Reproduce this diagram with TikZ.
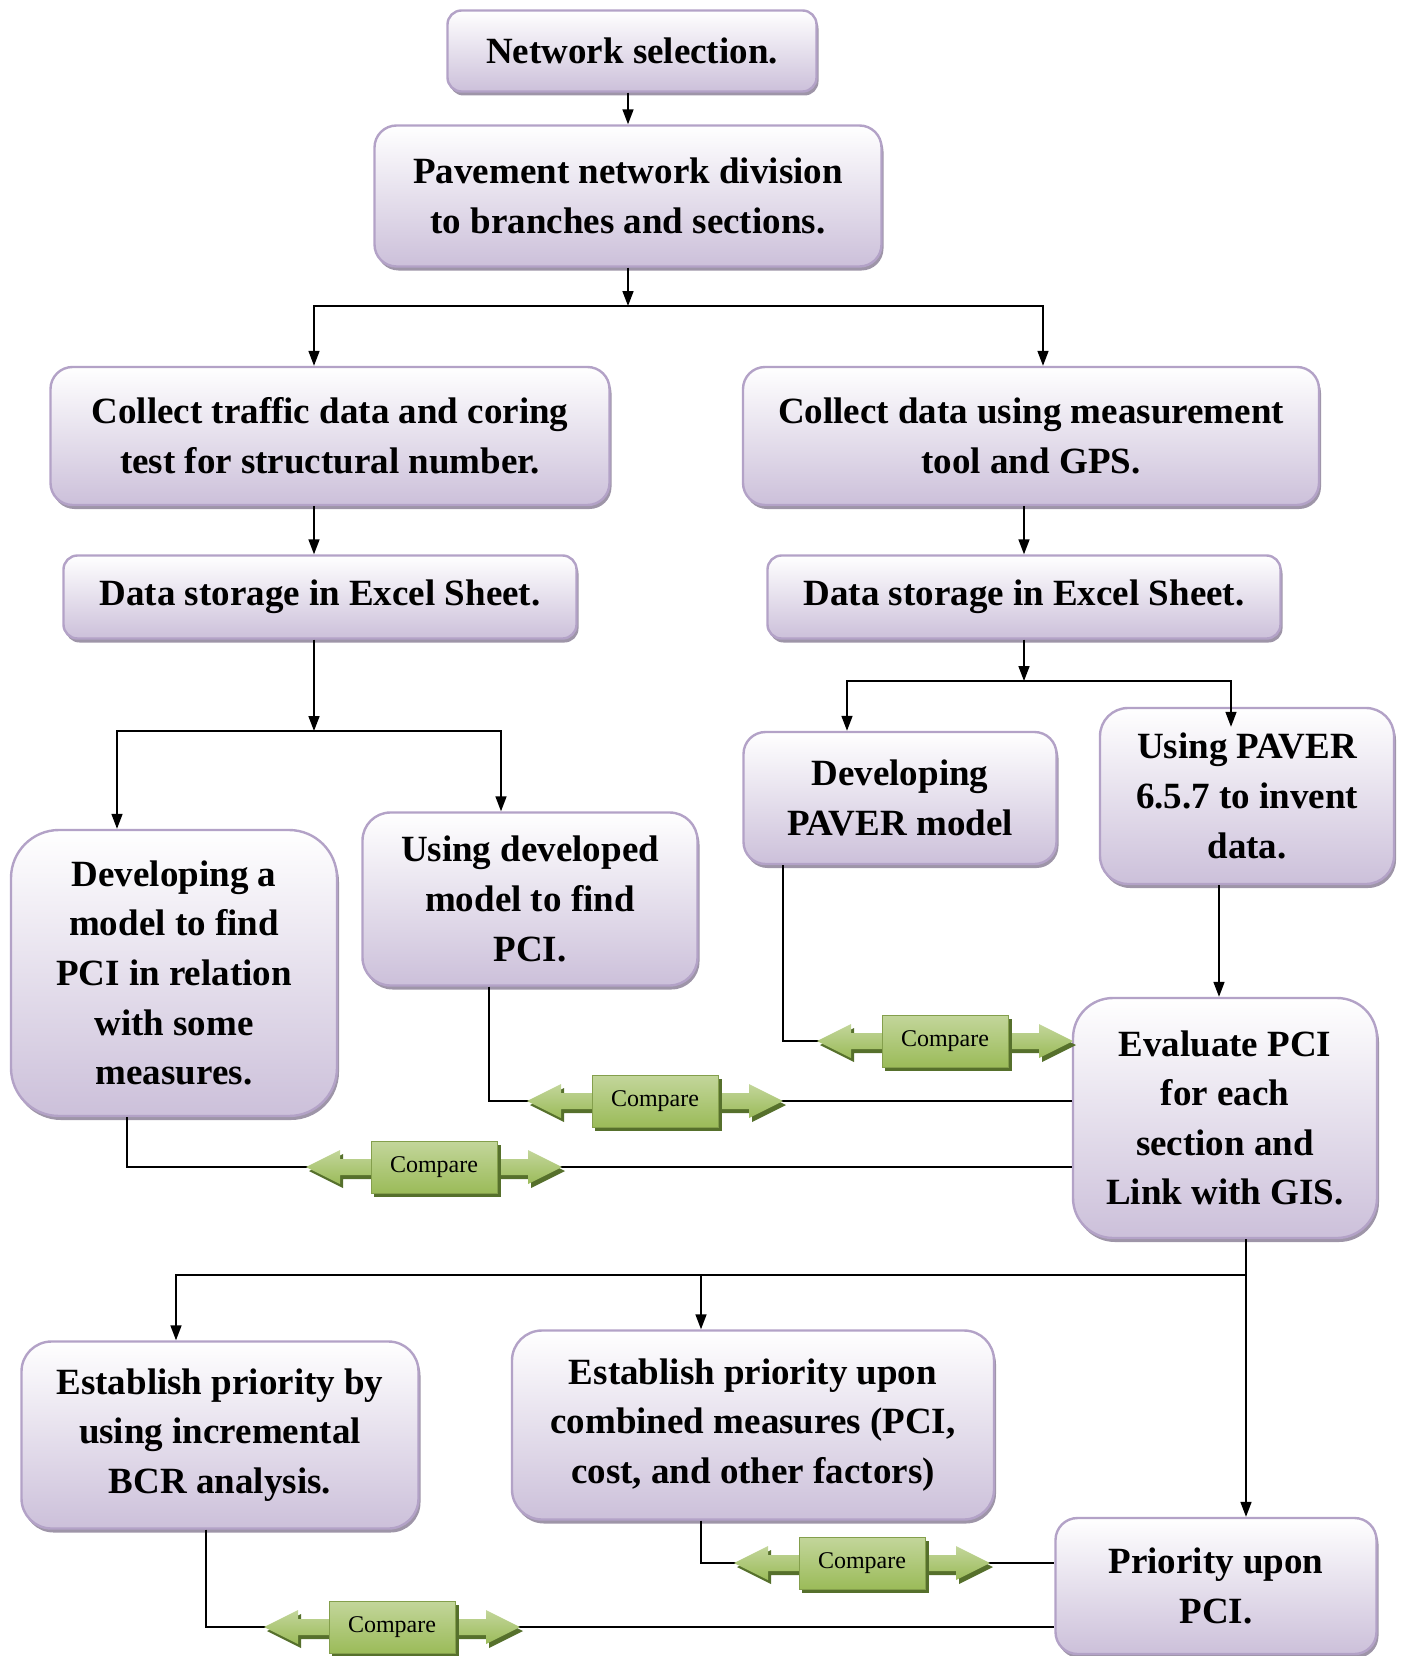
\documentclass[tikz,border=0pt]{standalone}
\usepackage{fontspec}
\setmainfont{Liberation Serif}
\usepackage{tikz}
\usetikzlibrary{arrows.meta,shadows}

\definecolor{boxline}{HTML}{B3A2C7}
\definecolor{boxfill}{HTML}{CCC0DA}
\definecolor{boxshade}{HTML}{9E95A8}
\definecolor{cmpgreen}{HTML}{9BBB59}
\definecolor{cmplight}{HTML}{C3D69B}
\definecolor{cmpdark}{HTML}{56702C}

\tikzset{
  stepbox/.style={draw=boxline, line width=2.4pt, rounded corners=#1,
    top color=white, bottom color=boxfill, align=center, inner sep=0pt,
    font=\bfseries\fontsize{37}{49.6}\selectfont,
    drop shadow={shadow xshift=2pt, shadow yshift=-4pt, fill=boxshade, opacity=1}},
  stepbox/.default=14pt,
  link/.style={line width=1.6pt, -{Triangle[length=15pt,width=11pt]}},
  plain/.style={line width=1.6pt},
  pics/compare/.style={code={
    % shadow of the double arrow
    \fill[cmpdark] (-125,4) -- (-91,-13) -- (-91,-4) -- (97,-4) -- (97,-13) -- (131,4)
      -- (97,21) -- (97,12) -- (-91,12) -- (-91,21) -- cycle;
    \path[top color=cmplight, bottom color=cmpgreen] (-128,0) -- (-94,-17) -- (-94,-8)
      -- (94,-8) -- (94,-17) -- (128,0) -- (94,17) -- (94,8) -- (-94,8) -- (-94,17) -- cycle;
    % box in the middle
    \fill[cmpdark] (-60,-22) rectangle (67,30);
    \path[top color=cmplight, bottom color=cmpgreen, draw=cmpgreen!85!black, line width=1pt]
      (-63,-26) rectangle (63,26);
    \node[font=\fontsize{24}{28}\selectfont] (-txt) at (0,0) {Compare};
    \coordinate (-w) at (-128,0);
    \coordinate (-e) at (128,0);
  }}
}

\begin{document}
\begin{tikzpicture}[x=1pt,y=-1pt]
        \useasboundingbox (0,0) rectangle (1400,1656);

        %top part
        \node[stepbox, minimum width=369pt, minimum height=81pt] (net) at (632,51) {Network selection.};
        \node[stepbox=22pt, minimum width=507pt, minimum height=141pt] (pav) at (628,196) {Pavement network division\\to branches and sections.};
        \node[stepbox=22pt, minimum width=559pt, minimum height=138pt] (ctr) at (330,436) {Collect traffic data and coring\\test for structural number.};
        \node[stepbox=22pt, minimum width=576pt, minimum height=138pt] (cgps) at (1031,436) {Collect data using measurement\\tool and GPS.};
        \node[stepbox, minimum width=513pt, minimum height=83pt] (stL) at (320,597) {Data storage in Excel Sheet.};
        \node[stepbox, minimum width=513pt, minimum height=83pt] (stR) at (1024,597) {Data storage in Excel Sheet.};

        %models
        \node[stepbox=48pt, minimum width=326pt, minimum height=286pt] (dev) at (174,973) {Developing a\\model to find\\PCI in relation\\with some\\measures.};
        \node[stepbox=28pt, minimum width=335pt, minimum height=173pt] (use) at (530,899) {Using developed\\model to find\\PCI.};
        \node[stepbox=22pt, minimum width=313pt, minimum height=132pt] (pvm) at (900,798) {Developing\\PAVER model};
        \node[stepbox=28pt, minimum width=294pt, minimum height=176pt] (pvr) at (1247,796) {Using PAVER\\6.5.7 to invent\\data.};
        \node[stepbox=40pt, minimum width=304pt, minimum height=240pt] (eval) at (1225,1118) {Evaluate PCI\\for each\\section and\\Link with GIS.};

        %priority
        \node[stepbox=30pt, minimum width=397pt, minimum height=187pt] (bcr) at (220,1435) {Establish priority by\\using incremental\\BCR analysis.};
        \node[stepbox=30pt, minimum width=482pt, minimum height=189pt] (comb) at (753,1425) {Establish priority upon\\combined measures (PCI,\\cost, and other factors)};
        \node[stepbox=22pt, minimum width=321pt, minimum height=136pt] (ppci) at (1216,1586) {Priority upon\\PCI.};

        %arrows
        \coordinate (j1) at (628,306);
        \coordinate (j2) at (314,731);
        \coordinate (j3) at (1024,681);
        \coordinate (j4) at (1246,1275);
        \draw[link] (net.south -| pav.north) -- (pav.north);
        \draw[link] (pav.south) -- (j1);
        \draw[link] (j1) -| ([xshift=-16pt]ctr.north);
        \draw[link] (j1) -| ([xshift=12pt]cgps.north);
        \draw[link] ([xshift=-16pt]ctr.south) -- ([xshift=-6pt]stL.north);
        \draw[link] ([xshift=-7pt]cgps.south) -- (stR.north);
        \draw[link] ([xshift=-6pt]stL.south) -- (j2);
        \draw[link] (j2) -| ([xshift=-57pt]dev.north);
        \draw[link] (j2) -| ([xshift=-29pt]use.north);
        \draw[link] (stR.south) -- (j3);
        \draw[link] (j3) -| ([xshift=-53pt]pvm.north);
        \draw[link] (j3) -| ([xshift=-16pt,yshift=-20pt]pvr.north);
        \draw[link] ([xshift=-28pt]pvr.south) -- ([xshift=-6pt]eval.north);
        \draw[plain] ([xshift=21pt]eval.south) -- (j4);
        \draw[link] (j4) -| ([xshift=-44pt]bcr.north);
        \draw[link] (j4) -| ([xshift=-52pt]comb.north);
        \draw[link] (j4) -- (j4 |- ppci.north);

        %compare
        \draw[plain] ([xshift=-117pt]pvm.south) |- (945,1041);
        \draw[plain] ([xshift=-41pt]use.south) |- (655,1101) -- (655,1101 -| eval.west);
        \draw[plain] ([xshift=-47pt]dev.south) |- (434,1167) -- (434,1167 -| eval.west);
        \draw[plain] ([xshift=-52pt]comb.south) |- (862,1563) -- (862,1563 -| ppci.west);
        \draw[plain] ([xshift=-14pt]bcr.south) |- (392,1627) -- (392,1627 -| ppci.west);
        \pic (cmpA) at (945,1041) {compare};
        \pic (cmpB) at (655,1101) {compare};
        \pic (cmpC) at (434,1167) {compare};
        \pic (cmpD) at (862,1563) {compare};
        \pic (cmpE) at (392,1627) {compare};
\end{tikzpicture}
\end{document}
